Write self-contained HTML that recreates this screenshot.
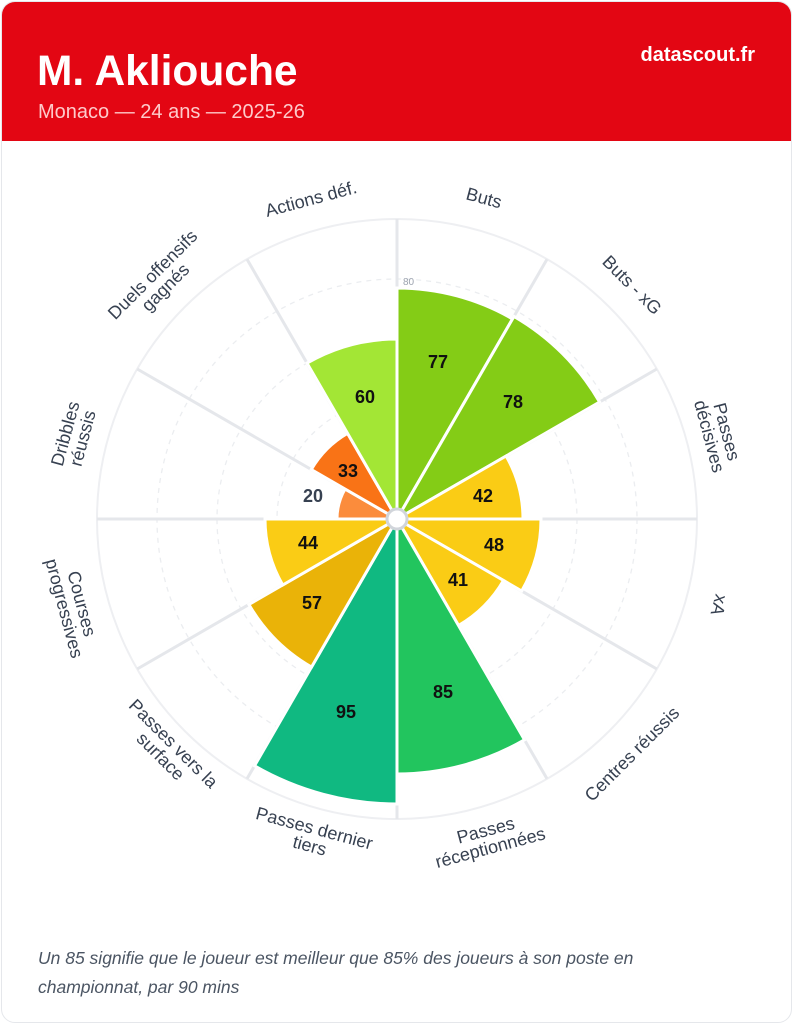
<!DOCTYPE html>
<html><head><meta charset="utf-8"><style>
body{margin:0;background:#fff;width:793px;height:1024px;overflow:hidden;font-family:"Liberation Sans",sans-serif}
.card{position:absolute;left:1px;top:1px;width:789px;height:1020px;border:1px solid #e5e7eb;border-radius:14px;overflow:hidden;background:#fff}
.hdr{position:absolute;left:0;top:0;width:100%;height:139px;background:#e30613}
.t{position:absolute;left:35px;top:46px;color:#fff;font-weight:bold;font-size:42.5px}
.s{position:absolute;left:36px;top:99px;color:#fecaca;font-size:20px}
.d{position:absolute;right:36px;top:42px;color:#fff;font-weight:bold;font-size:20px}
.f{position:absolute;left:36px;top:942px;width:690px;color:#4b5563;font-style:italic;font-size:17.5px;line-height:29px}
</style></head><body><div class="card">
<div class="hdr"><div class="t">M. Akliouche</div><div class="s">Monaco — 24 ans — 2025-26</div><div class="d">datascout.fr</div></div>
<svg width="793" height="1024" style="position:absolute;left:-1px;top:-1px" font-family="Liberation Sans,sans-serif">
<g fill="none" stroke="#ebedf0" stroke-width="1.3" stroke-dasharray="5,5">
<circle cx="396" cy="518" r="60"/><circle cx="396" cy="518" r="120"/><circle cx="396" cy="518" r="180"/><circle cx="396" cy="518" r="240"/></g>
<circle cx="396" cy="518" r="300" fill="none" stroke="#eeeff2" stroke-width="2"/>
<g stroke="#e5e7eb" stroke-width="3">
<line x1="396" y1="518" x2="396" y2="218"/><line x1="396" y1="518" x2="546" y2="258.2"/><line x1="396" y1="518" x2="655.8" y2="368"/><line x1="396" y1="518" x2="696" y2="518"/><line x1="396" y1="518" x2="655.8" y2="668"/><line x1="396" y1="518" x2="546" y2="777.8"/><line x1="396" y1="518" x2="396" y2="818"/><line x1="396" y1="518" x2="246" y2="777.8"/><line x1="396" y1="518" x2="136.2" y2="668"/><line x1="396" y1="518" x2="96" y2="518"/><line x1="396" y1="518" x2="136.2" y2="368"/><line x1="396" y1="518" x2="246" y2="258.2"/></g>
<text x="402" y="284" font-size="10" fill="#9ca3af">80</text>
<g stroke="#fff" stroke-width="3">
<path d="M396 518L396 287A231 231 0 0 1 511.5 317.9Z" fill="#84cc16"/>
<path d="M396 518L513 315.4A234 234 0 0 1 598.6 401Z" fill="#84cc16"/>
<path d="M396 518L505.1 455A126 126 0 0 1 522 518Z" fill="#facc15"/>
<path d="M396 518L540 518A144 144 0 0 1 520.7 590Z" fill="#facc15"/>
<path d="M396 518L502.5 579.5A123 123 0 0 1 457.5 624.5Z" fill="#facc15"/>
<path d="M396 518L523.5 738.8A255 255 0 0 1 396 773Z" fill="#22c55e"/>
<path d="M396 518L396 803A285 285 0 0 1 253.5 764.8Z" fill="#10b981"/>
<path d="M396 518L310.5 666.1A171 171 0 0 1 247.9 603.5Z" fill="#eab308"/>
<path d="M396 518L281.7 584A132 132 0 0 1 264 518Z" fill="#facc15"/>
<path d="M396 518L336 518A60 60 0 0 1 344 488Z" fill="#fb8c3c"/>
<path d="M396 518L310.3 468.5A99 99 0 0 1 346.5 432.3Z" fill="#f97316"/>
<path d="M396 518L306 362.1A180 180 0 0 1 396 338Z" fill="#a3e635"/></g>
<circle cx="396" cy="518" r="10" fill="#fff" stroke="#d1d5db" stroke-width="3"/>
<g font-size="18" font-weight="bold" text-anchor="middle" fill="#111">
<text x="437" y="367">77</text><text x="512" y="407">78</text><text x="482" y="501">42</text><text x="493" y="550">48</text><text x="457" y="585">41</text><text x="442" y="697">85</text><text x="345" y="717">95</text><text x="311" y="608">57</text><text x="307" y="548">44</text><text x="312" y="501" fill="#374151">20</text><text x="347" y="476">33</text><text x="364" y="402">60</text></g>
<g font-size="18" fill="#374151" text-anchor="middle">
<text transform="translate(483,197) rotate(15)" y="6">Buts</text>
<text transform="translate(631,284) rotate(45)" y="6">Buts - xG</text>
<text transform="translate(717,433) rotate(75)"><tspan x="0" y="-3">Passes</tspan><tspan x="0" y="15">décisives</tspan></text>
<text transform="translate(718,604) rotate(105)" y="6">xA</text>
<text transform="translate(631,753) rotate(-45)" y="6">Centres réussis</text>
<text transform="translate(487,838) rotate(-15)"><tspan x="0" y="-3">Passes</tspan><tspan x="0" y="15">réceptionnées</tspan></text>
<text transform="translate(311,836) rotate(15)"><tspan x="0" y="-3">Passes dernier</tspan><tspan x="0" y="15">tiers</tspan></text>
<text transform="translate(166,749) rotate(45)"><tspan x="0" y="-3">Passes vers la</tspan><tspan x="0" y="15">surface</tspan></text>
<text transform="translate(72,605) rotate(75)"><tspan x="0" y="-3">Courses</tspan><tspan x="0" y="15">progressives</tspan></text>
<text transform="translate(73,435) rotate(-75)"><tspan x="0" y="-3">Dribbles</tspan><tspan x="0" y="15">réussis</tspan></text>
<text transform="translate(158,280) rotate(-45)"><tspan x="0" y="-3">Duels offensifs</tspan><tspan x="0" y="15">gagnés</tspan></text>
<text transform="translate(310,198) rotate(-15)" y="6">Actions déf.</text></g>
</svg>
<div class="f">Un 85 signifie que le joueur est meilleur que 85% des joueurs à son poste en championnat, par 90 mins</div>
</div></body></html>
